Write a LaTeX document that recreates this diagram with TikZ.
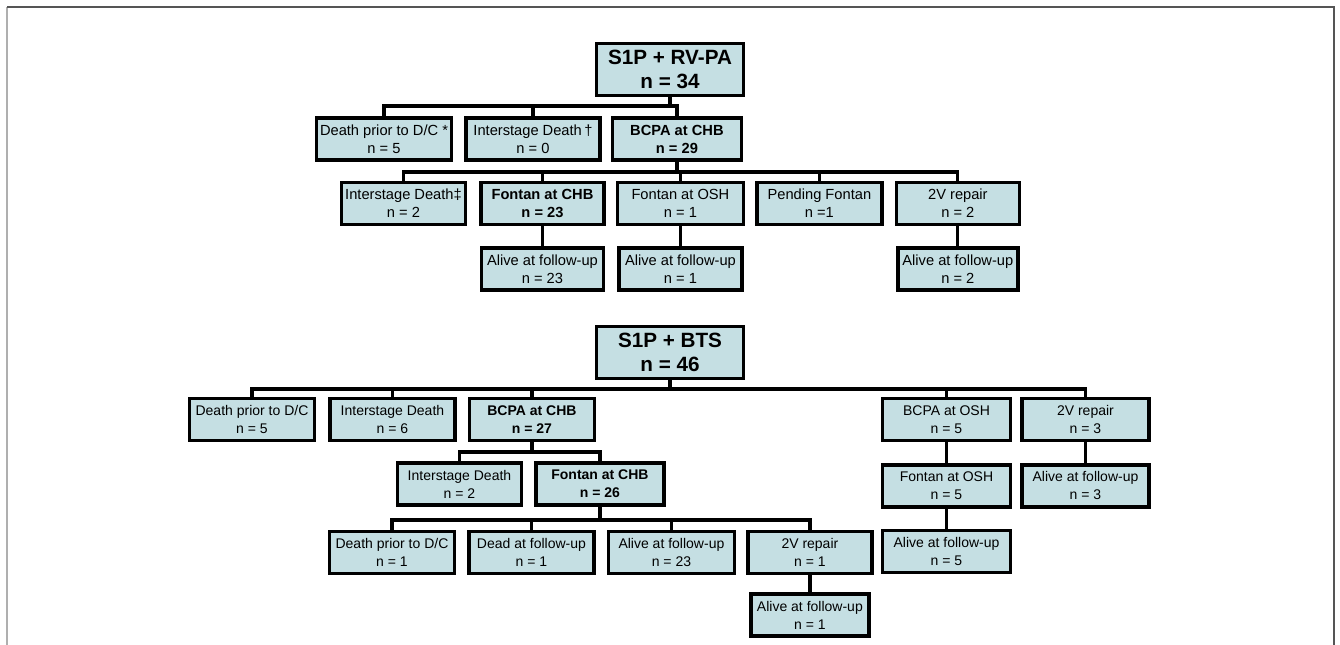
\documentclass[tikz,border=0pt]{standalone}
\usepackage{fontspec}
\setmainfont{Liberation Sans}
\usetikzlibrary{positioning}
\usepackage{xcolor}
\definecolor{boxfill}{RGB}{197,223,227}
\definecolor{framedark}{RGB}{85,85,85}
\definecolor{framelight}{RGB}{175,175,175}

\begin{document}
\begin{tikzpicture}[
    x=0.75pt, y=-0.75pt,
    node distance=15pt and 8pt,
    box/.style={rectangle, draw, line width=2.6pt, fill=boxfill, align=center, inner sep=1pt, minimum height=31.5pt},
    rvbox/.style={box, font=\fontsize{11}{13.5}\selectfont},
    rvbold/.style={box, font=\bfseries\fontsize{11}{13.5}\selectfont},
    btsbox/.style={box, font=\fontsize{10.5}{13.5}\selectfont},
    btsbold/.style={box, font=\bfseries\fontsize{10.5}{13.5}\selectfont},
    topbox/.style={box, minimum height=39pt, font=\bfseries\fontsize{15.5}{17.5}\selectfont},
    link/.style={line width=2.4pt}
]
    \useasboundingbox (0,0) rectangle (1340,645);
    \draw[framelight, line width=1.5pt] (7,645) -- (7,7);
    \draw[framedark, line width=1.1pt] (7,7) -- (1334,7) -- (1334,645);

    % S1P + RV-PA
    \node[topbox, minimum width=110.25pt] (rvpa) at (670,69.5) {S1P + RV-PA\\n = 34};
    \node[rvbox, minimum width=101.25pt] (rvdc) at (384,139) {Death prior to D/C *\\n = 5};
    \node[rvbox, minimum width=100.5pt, right=8.25pt of rvdc] (rvinter) {Interstage Death\,†\\n = 0};
    \node[rvbold, minimum width=96.75pt, right=6.75pt of rvinter] (rvbcpa) {BCPA at CHB\\n = 29};
    \node[rvbox, minimum width=93pt] (rvinter2) at (403.5,203.5) {Interstage Death‡\\n = 2};
    \node[rvbold, minimum width=92.25pt, right=9pt of rvinter2] (rvfontan) {Fontan at CHB\\n = 23};
    \node[rvbox, minimum width=94.5pt, right=7.5pt of rvfontan] (rvosh) {Fontan at OSH\\n = 1};
    \node[rvbox, minimum width=93.75pt, right=7.5pt of rvosh] (rvpending) {Pending Fontan\\n =1};
    \node[rvbox, minimum width=92.25pt, right=8.25pt of rvpending] (rvrepair) {2V repair\\n = 2};
    \node[rvbox, minimum width=91.5pt, below=of rvfontan] (rvalive1) {Alive at follow-up\\n = 23};
    \node[rvbox, minimum width=92.25pt, below=of rvosh] (rvalive2) {Alive at follow-up\\n = 1};
    \node[rvbox, minimum width=90pt, below=of rvrepair] (rvalive3) {Alive at follow-up\\n = 2};

    \coordinate (rvbus) at (0,106);
    \coordinate (rvbcpabus) at (0,172);
    \draw[link] (rvpa.south) -- (rvpa.south |- rvbus) -| (rvdc.north);
    \draw[link] (rvpa.south) -- (rvpa.south |- rvbus) -| (rvinter.north);
    \draw[link] (rvpa.south) -- (rvpa.south |- rvbus) -| (rvbcpa.north);
    \draw[link] (rvbcpa.south) -- (rvbcpa.south |- rvbcpabus) -| (rvinter2.north);
    \draw[link] (rvbcpa.south) -- (rvbcpa.south |- rvbcpabus) -| (rvfontan.north);
    \draw[link] (rvbcpa.south) -- (rvbcpa.south |- rvbcpabus) -| (rvosh.north);
    \draw[link] (rvbcpa.south) -- (rvbcpa.south |- rvbcpabus) -| (rvpending.north);
    \draw[link] (rvbcpa.south) -- (rvbcpa.south |- rvbcpabus) -| (rvrepair.north);
    \draw[link] (rvfontan) -- (rvalive1);
    \draw[link] (rvosh) -- (rvalive2);
    \draw[link] (rvrepair) -- (rvalive3);

    % S1P + BTS
    \node[topbox, minimum width=110.25pt] (bts) at (670,352.5) {S1P + BTS\\n = 46};
    \node[btsbox, minimum width=93.75pt] (btsdc) at (252,419.5) {Death prior to D/C\\n = 5};
    \node[btsbox, minimum width=93.75pt, right=9pt of btsdc] (btsinter) {Interstage Death\\n = 6};
    \node[btsbold, minimum width=93.75pt, right=8.25pt of btsinter] (btsbcpa) {BCPA at CHB\\n = 27};
    \node[btsbox, minimum width=96pt] (btsbcpaosh) at (946.5,419.5) {BCPA at OSH\\n = 5};
    \node[btsbox, minimum width=95.25pt, right=6pt of btsbcpaosh] (btsrepair) {2V repair\\n = 3};
    \node[btsbox, minimum width=93pt] (btsinter2) at (459.5,484) {Interstage Death\\n = 2};
    \node[btsbold, minimum width=96pt, right=8.25pt of btsinter2] (btsfontan) {Fontan at CHB\\n = 26};
    \node[btsbox, minimum width=96pt, below=15.75pt of btsbcpaosh] (btsosh) {Fontan at OSH\\n = 5};
    \node[btsbox, minimum width=95.25pt, below=15.75pt of btsrepair] (btsalive3) {Alive at follow-up\\n = 3};
    \node[btsbox, minimum width=93.75pt] (btsdc2) at (392,552.5) {Death prior to D/C\\n = 1};
    \node[btsbox, minimum width=93.75pt, right=8.25pt of btsdc2] (btsdead) {Dead at follow-up\\n = 1};
    \node[btsbox, minimum width=94.5pt, right=8.25pt of btsdead] (btsalive) {Alive at follow-up\\n = 23};
    \node[btsbox, minimum width=93pt, right=7.5pt of btsalive] (btsrepair2) {2V repair\\n = 1};
    \node[btsbox, minimum width=96pt, below=15pt of btsosh] (btsalive2) {Alive at follow-up\\n = 5};
    \node[btsbox, minimum width=88.5pt, below=12.75pt of btsrepair2] (btsalive4) {Alive at follow-up\\n = 1};

    \coordinate (btsbus) at (0,389);
    \coordinate (btsbcpabus) at (0,452);
    \coordinate (btsfontanbus) at (0,520);
    \draw[link] (bts.south) -- (bts.south |- btsbus) -| (btsdc.north);
    \draw[link] (bts.south) -- (bts.south |- btsbus) -| (btsinter.north);
    \draw[link] (bts.south) -- (bts.south |- btsbus) -| (btsbcpa.north);
    \draw[link] (bts.south) -- (bts.south |- btsbus) -| (btsbcpaosh.north);
    \draw[link] (bts.south) -- (bts.south |- btsbus) -| (btsrepair.north);
    \draw[link] (btsbcpa.south) -- (btsbcpa.south |- btsbcpabus) -| (btsinter2.north);
    \draw[link] (btsbcpa.south) -- (btsbcpa.south |- btsbcpabus) -| (btsfontan.north);
    \draw[link] (btsfontan.south) -- (btsfontan.south |- btsfontanbus) -| (btsdc2.north);
    \draw[link] (btsfontan.south) -- (btsfontan.south |- btsfontanbus) -| (btsdead.north);
    \draw[link] (btsfontan.south) -- (btsfontan.south |- btsfontanbus) -| (btsalive.north);
    \draw[link] (btsfontan.south) -- (btsfontan.south |- btsfontanbus) -| (btsrepair2.north);
    \draw[link] (btsbcpaosh) -- (btsosh);
    \draw[link] (btsosh) -- (btsalive2);
    \draw[link] (btsrepair) -- (btsalive3);
    \draw[link] (btsrepair2) -- (btsalive4);
\end{tikzpicture}
\end{document}
